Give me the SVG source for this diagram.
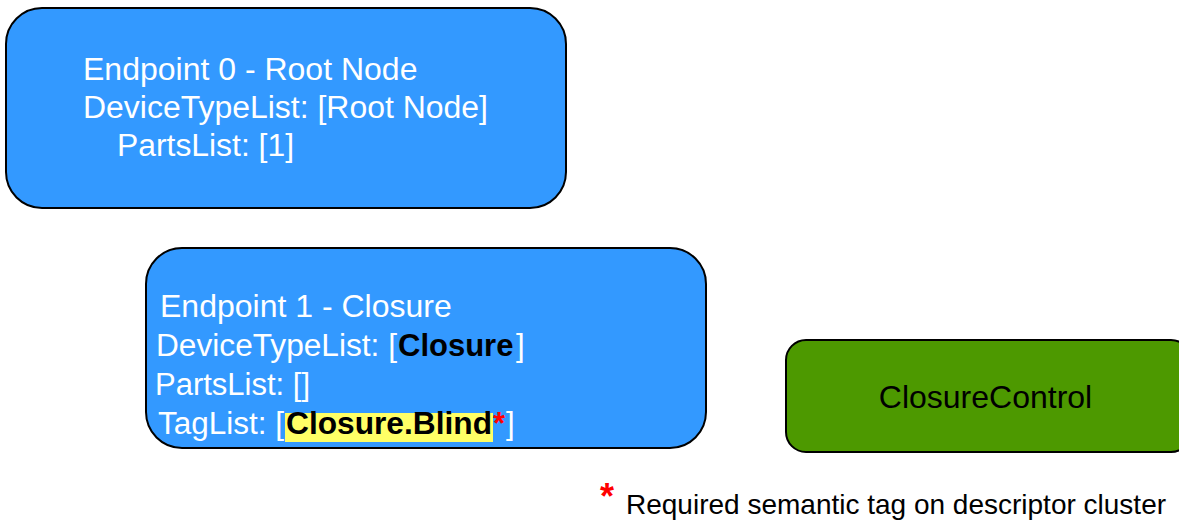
<svg xmlns="http://www.w3.org/2000/svg" width="1179" height="522" viewBox="0 0 1179 522">
<style>
.ep{fill:#3399FF;stroke:#000;stroke-width:2}
.cc{fill:#4D9900;stroke:#000;stroke-width:2}
.t{font-family:"Liberation Sans",Arial,sans-serif;font-size:31px;fill:#fff}
.h{font-size:32px}
.b{font-weight:bold;fill:#000}
.k{font-family:"Liberation Sans",Arial,sans-serif;fill:#000}
.r{fill:#FF0000}
</style>
<rect width="1179" height="522" fill="#fff"/>
<g id="endpoint0">
<rect class="ep" x="6" y="8" width="560" height="200" rx="36" ry="36"/>
<text class="t h" x="83" y="80">Endpoint 0 - Root Node</text>
<text class="t" x="83" y="118" textLength="405" lengthAdjust="spacingAndGlyphs">DeviceTypeList: [Root Node]</text>
<text class="t" x="117" y="156" textLength="177" lengthAdjust="spacingAndGlyphs">PartsList: [1]</text>
</g>
<g id="endpoint1">
<rect class="ep" x="146" y="248" width="560" height="200" rx="36" ry="36"/>
<text class="t h" x="160" y="317">Endpoint 1 - Closure</text>
<text class="t" x="156" y="356"><tspan textLength="241" lengthAdjust="spacingAndGlyphs">DeviceTypeList: [</tspan><tspan class="b" x="398">Closure</tspan><tspan x="516">]</tspan></text>
<text class="t" x="155" y="395" textLength="155" lengthAdjust="spacingAndGlyphs">PartsList: []</text>
<rect x="285" y="413" width="208" height="29" fill="#FFFF66"/>
<text class="t" x="158" y="434"><tspan textLength="126" lengthAdjust="spacingAndGlyphs">TagList: [</tspan><tspan class="b" x="286" textLength="206" lengthAdjust="spacingAndGlyphs">Closure.Blind</tspan><tspan class="b r" x="493">*</tspan><tspan x="506">]</tspan></text>
</g>
<g id="closurecontrol">
<rect class="cc" x="786" y="340" width="405" height="112" rx="20" ry="20"/>
<text class="k" x="985.5" y="408" font-size="32" text-anchor="middle">ClosureControl</text>
</g>
<g id="connectors"></g>
<g id="footnote">
<text class="k r" x="600" y="509" font-size="36" font-weight="bold">*</text>
<text class="k" x="626" y="514" font-size="28">Required semantic tag on descriptor cluster</text>
</g>
</svg>
